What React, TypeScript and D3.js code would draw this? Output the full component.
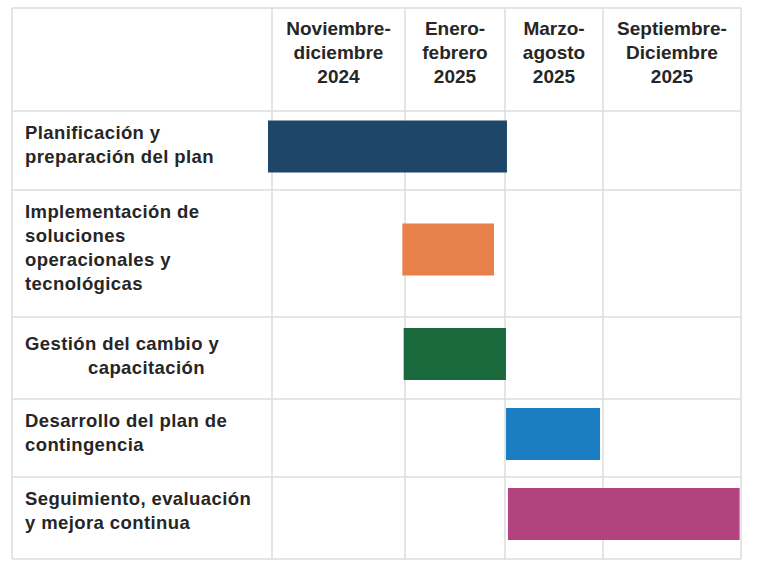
import React, { useEffect, useRef } from "react";
import * as d3 from "d3";

// periods (column headers), one entry per line
const periods = [
  ["Noviembre-", "diciembre", "2024"],
  ["Enero-", "febrero", "2025"],
  ["Marzo-", "agosto", "2025"],
  ["Septiembre-", "Diciembre", "2025"],
];

// task labels, one entry per line
const tasks = [
  ["Planificación y", "preparación del plan"],
  ["Implementación de", "soluciones", "operacionales y", "tecnológicas"],
  ["Gestión del cambio y", "capacitación"],
  ["Desarrollo del plan de", "contingencia"],
  ["Seguimiento, evaluación", "y mejora continua"],
];

// bar start / end measured in period columns (0 = start of first period)
const starts = [-0.03, 0.98, 0.99, 2.01, 2.03];
const ends = [2.02, 1.89, 2.01, 2.97, 3.99];
const colors = ["#1e4668", "#e8804b", "#1b6a3d", "#1b7dc2", "#b2437f"];

const App = () => {
  const ref = useRef<SVGSVGElement>(null);

  useEffect(() => {
    const width = 775;
    const height = 566;
    const colEdges = [272, 405, 505, 603, 741]; // column boundaries
    const rowEdges = [111, 190, 317, 399, 477, 559]; // row boundaries
    const left = 12;
    const top = 8;
    const barH = 52;
    const font = "'Liberation Sans', Arial, sans-serif";

    // piecewise scale: period index -> x
    const x = d3
      .scaleLinear()
      .domain(d3.range(periods.length + 1))
      .range(colEdges);

    const svg = d3.select(ref.current);
    svg.selectAll("*").remove();
    svg.attr("width", width).attr("height", height);

    svg
      .append("rect")
      .attr("width", width)
      .attr("height", height)
      .attr("fill", "#fff");

    // grid
    const grid = svg
      .append("g")
      .attr("stroke", "#dcdcdc")
      .attr("stroke-width", 1.5)
      .attr("fill", "none");
    const yBottom = rowEdges[rowEdges.length - 1];
    [left, ...colEdges].forEach((cx) => {
      grid
        .append("line")
        .attr("x1", cx)
        .attr("x2", cx)
        .attr("y1", top)
        .attr("y2", yBottom);
    });
    [top, ...rowEdges].forEach((cy) => {
      grid
        .append("line")
        .attr("x1", left)
        .attr("x2", colEdges[colEdges.length - 1])
        .attr("y1", cy)
        .attr("y2", cy);
    });

    // headers
    const head = svg
      .append("g")
      .attr("font-family", font)
      .attr("font-weight", "bold")
      .attr("font-size", 19)
      .attr("fill", "#262626")
      .attr("text-anchor", "middle");
    periods.forEach((lines, i) => {
      const t = head
        .append("text")
        .attr("x", (x(i) + x(i + 1)) / 2)
        .attr("y", 35);
      lines.forEach((l, j) => {
        t.append("tspan")
          .attr("x", (x(i) + x(i + 1)) / 2)
          .attr("dy", j === 0 ? 0 : 24)
          .text(l);
      });
    });

    // task labels
    const lab = svg
      .append("g")
      .attr("font-family", font)
      .attr("font-weight", "bold")
      .attr("font-size", 18.5)
      .attr("letter-spacing", 0.4)
      .attr("fill", "#262626");
    tasks.forEach((lines, i) => {
      const extraY = i === 2 ? 5 : 0;
      const t = lab
        .append("text")
        .attr("x", 25)
        .attr("y", rowEdges[i] + 28 + extraY);
      lines.forEach((l, j) => {
        t.append("tspan")
          .attr("x", i === 2 && j === 1 ? 88 : 25)
          .attr("dy", j === 0 ? 0 : 24)
          .text(l);
      });
    });

    // bars
    svg
      .append("g")
      .selectAll("rect")
      .data(tasks)
      .join("rect")
      .attr("x", (d, i) => x(starts[i]))
      .attr("width", (d, i) => x(ends[i]) - x(starts[i]))
      .attr("y", (d, i) => (rowEdges[i] + rowEdges[i + 1]) / 2 - 4 - barH / 2)
      .attr("height", barH)
      .attr("fill", (d, i) => colors[i]);
  }, []);

  return (
    <svg
      ref={ref}
      style={{ position: "absolute", left: 0, top: 0, display: "block" }}
    />
  );
};

export default App;
